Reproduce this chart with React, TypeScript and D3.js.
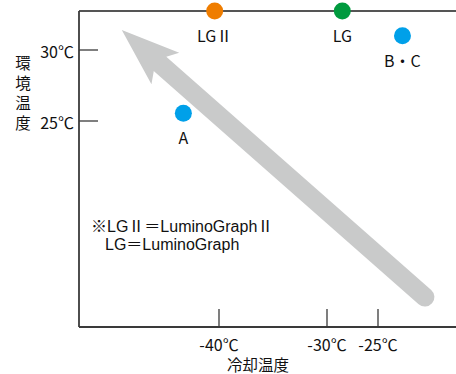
import React from "react";
import * as d3 from "d3";

// ---- data ----
const pointNames = ["LGⅡ", "LG", "B・C", "A"];
const coolingTemps = [-40.4, -28.5, -22.6, -43.3];
const ambientTemps = [32.75, 32.75, 31.0, 25.55];
const pointColors = ["#ef7d00", "#009a3e", "#00a0e9", "#00a0e9"];

const xTicks = [-40, -30, -25];
const xTickLabels = ["-40℃", "-30℃", "-25℃"];
const yTicks = [30, 25];
const yTickLabels = ["30℃", "25℃"];

const yTitleChars = ["環", "境", "温", "度"];
const xTitle = "冷却温度";
const noteLines = ["※LGⅡ＝LuminoGraphⅡ", "LG＝LuminoGraph"];

// arrow annotation in data units: [tail, tip]
const arrowCooling = [-20.4, -49.0];
const arrowAmbient = [12.6, 31.4];

const W = 456;
const H = 374;
const FONT = "'Noto Sans CJK JP', 'Noto Sans', sans-serif";
const NOTE_FONT = "'Liberation Sans', 'Noto Sans CJK JP', sans-serif";

export default function App() {
  const left = 79;
  const top = 11;
  const bottom = 327;
  const right = W;

  const x = d3.scaleLinear().domain([-40, -30, -25]).range([219, 327, 378]);
  const y = d3.scaleLinear().domain([25, 30]).range([121, 50]);

  // arrow geometry
  const tail = [x(arrowCooling[0]), y(arrowAmbient[0])];
  const tip = [x(arrowCooling[1]), y(arrowAmbient[1])];
  const dx = tip[0] - tail[0];
  const dy = tip[1] - tail[1];
  const len = Math.hypot(dx, dy);
  const u = [dx / len, dy / len];
  const n = [-u[1], u[0]];
  const headLen = 58;
  const headHalf = 21;
  const notch = 51;
  const shaftHalf = 9.5;
  const pt = (along: number, side: number) => [
    tip[0] - u[0] * along + n[0] * side,
    tip[1] - u[1] * along + n[1] * side,
  ];
  const headPts = [
    pt(0, 0),
    pt(headLen, headHalf),
    pt(notch, shaftHalf),
    pt(notch, -shaftHalf),
    pt(headLen, -headHalf),
  ];
  const shaftEnd = pt(notch - 2, 0);
  const arrowColor = "#c9caca";
  const axisColor = "#3a3a3a";

  return (
    <svg
      width={W}
      height={H}
      style={{ position: "absolute", left: 0, top: 0, background: "#fff" }}
      fontFamily={FONT}
    >
      {/* arrow */}
      <line
        x1={tail[0]}
        y1={tail[1]}
        x2={shaftEnd[0]}
        y2={shaftEnd[1]}
        stroke={arrowColor}
        strokeWidth={shaftHalf * 2}
        strokeLinecap="round"
      />
      <polygon points={headPts.map((p) => p.join(",")).join(" ")} fill={arrowColor} />

      {/* frame */}
      <line x1={left} y1={top} x2={right} y2={top} stroke="#555" strokeWidth={2} />
      <line x1={left} y1={top} x2={left} y2={bottom} stroke={axisColor} strokeWidth={1.8} />
      <line x1={left} y1={bottom} x2={right} y2={bottom} stroke={axisColor} strokeWidth={1.8} />

      {/* y ticks */}
      {yTicks.map((t, i) => (
        <g key={"y" + t}>
          <line x1={left} x2={left + 19} y1={y(t)} y2={y(t)} stroke={axisColor} strokeWidth={1.3} />
          <text x={left - 5} y={y(t) + 8} textAnchor="end" fontSize={16} fill="#111">
            {yTickLabels[i]}
          </text>
        </g>
      ))}

      {/* x ticks */}
      {xTicks.map((t, i) => (
        <g key={"x" + t}>
          <line x1={x(t)} x2={x(t)} y1={bottom - 18} y2={bottom} stroke={axisColor} strokeWidth={1.3} />
          <text x={x(t)} y={351} textAnchor="middle" fontSize={16} fill="#111">
            {xTickLabels[i]}
          </text>
        </g>
      ))}

      {/* axis titles */}
      <text x={258} y={371} textAnchor="middle" fontSize={15.5} fill="#111">
        {xTitle}
      </text>
      <text textAnchor="middle" fontSize={15.5} fill="#111">
        {yTitleChars.map((c, i) => (
          <tspan key={c + i} x={23} y={69 + i * 20}>
            {c}
          </tspan>
        ))}
      </text>

      {/* note */}
      <text fontSize={16} fill="#111" fontFamily={NOTE_FONT}>
        <tspan x={91} y={231.5}>
          {noteLines[0]}
        </tspan>
        <tspan x={105} y={250}>
          {noteLines[1]}
        </tspan>
      </text>

      {/* points */}
      {pointNames.map((name, i) => (
        <g key={name}>
          <circle cx={x(coolingTemps[i])} cy={y(ambientTemps[i])} r={8.5} fill={pointColors[i]} />
          <text
            x={x(coolingTemps[i])}
            y={y(ambientTemps[i]) + 31}
            textAnchor="middle"
            fontSize={16}
            fill="#111"
          >
            {name}
          </text>
        </g>
      ))}
    </svg>
  );
}
